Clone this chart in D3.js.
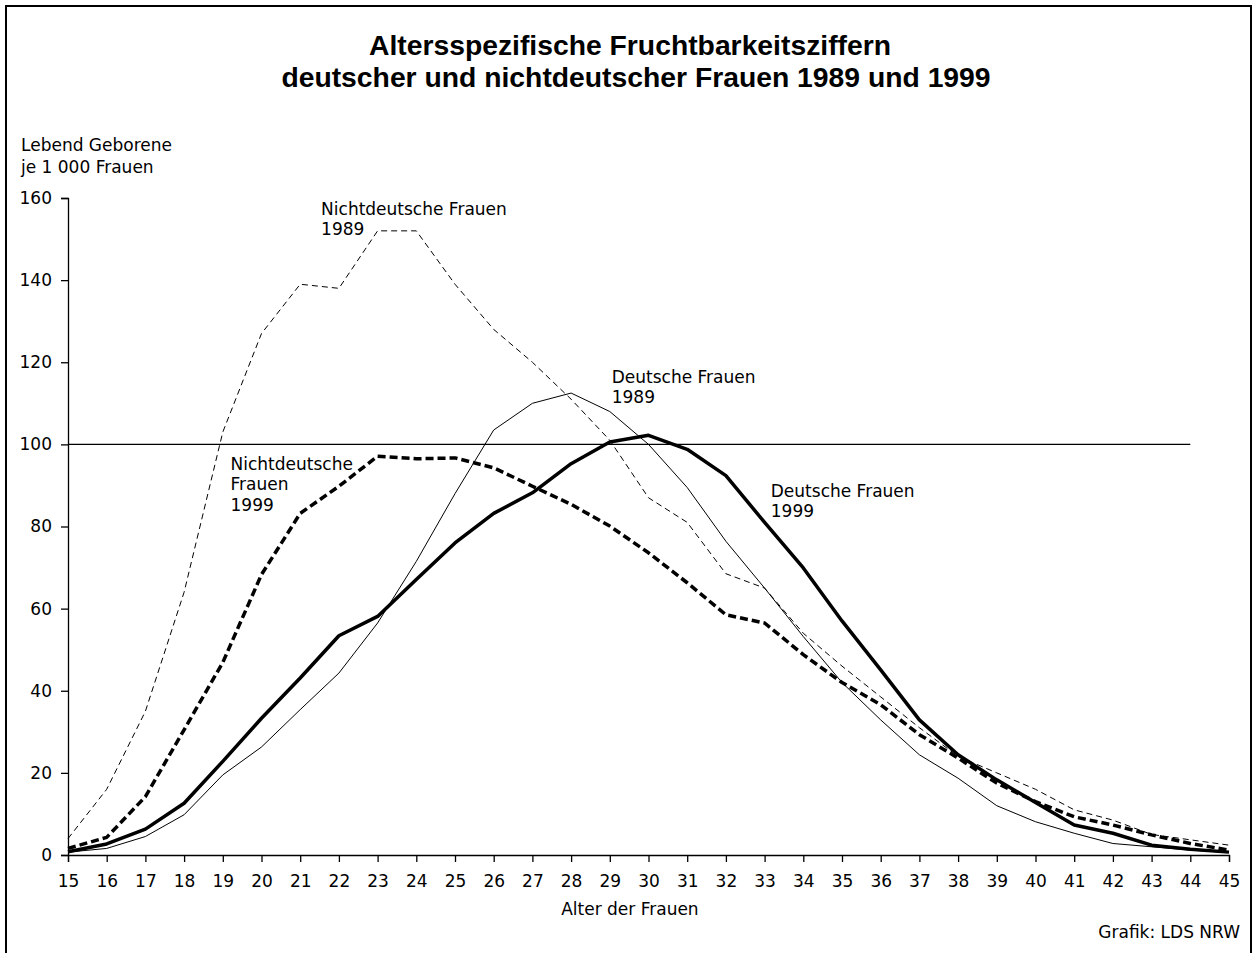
<!DOCTYPE html>
<html>
<head>
<meta charset="utf-8">
<script src="https://cdn.jsdelivr.net/npm/d3@7"></script>
<style>
  body { margin: 0; background: #fff; }
  svg text { font-family: "DejaVu Sans", sans-serif; fill: #000; }
  svg text.title { font-family: "Liberation Sans", Arial, sans-serif; font-weight: bold; }
</style>
</head>
<body>
<div id="chart"></div>
<script>
const ages = d3.range(15, 46);
const yTicks = [0, 20, 40, 60, 80, 100, 120, 140, 160];

const nichtdeutsch1989 = [4, 16, 35, 64, 103, 127, 139, 138, 152, 152, 139, 128, 120, 111, 101, 87, 81, 68.5, 65, 54, 46, 38.5, 31, 24, 20, 16, 11, 8.5, 5, 3.7, 2.4];
const deutsch1989 = [0.7, 1.6, 4.5, 9.8, 19.5, 26.3, 35.4, 44.3, 56.5, 71.5, 88, 103.5, 110, 112.5, 108, 100, 89.5, 76.4, 65, 53.2, 42, 32.9, 24.4, 18.7, 12, 8.1, 5.3, 2.8, 2, 1.2, 0.6];
const deutsch1999 = [0.8, 2.7, 6.3, 12.6, 22.8, 33.3, 43.1, 53.4, 58.1, 67.1, 76, 83.2, 88.2, 95.3, 100.6, 102.2, 98.8, 92.4, 81, 69.9, 57, 45.1, 32.9, 24.4, 18.3, 12.8, 7.3, 5.3, 2.4, 1.4, 0.7];
const nichtdeutsch1999 = [1.6, 4.3, 14.2, 30.5, 46.9, 68.3, 83.2, 89.8, 97.1, 96.5, 96.7, 94.3, 89.8, 85.4, 80.1, 73.6, 66.3, 58.5, 56.5, 48.8, 42, 36.6, 29.3, 23.6, 17.5, 13, 9.3, 7.3, 4.9, 2.8, 1.2];

const series = [
  { values: nichtdeutsch1989, width: 1, dash: "6,4" },
  { values: deutsch1989, width: 1, dash: null },
  { values: nichtdeutsch1999, width: 3.5, dash: "8,4" },
  { values: deutsch1999, width: 3.5, dash: null }
];

// label anchors in data units (age, value of first baseline)
const labels = [
  { lines: ["Nichtdeutsche Frauen", "1989"], age: 21.54, value: 155.9 },
  { lines: ["Nichtdeutsche", "Frauen", "1999"], age: 19.2, value: 93.8 },
  { lines: ["Deutsche Frauen", "1989"], age: 29.05, value: 115 },
  { lines: ["Deutsche Frauen", "1999"], age: 33.16, value: 87.2 }
];

const W = 1257, H = 953;
const fs = 17;

const svg = d3.select("#chart").append("svg")
  .attr("width", W)
  .attr("height", H);

svg.append("rect")
  .attr("x", 6).attr("y", 6)
  .attr("width", W - 12).attr("height", H + 20)
  .attr("fill", "none")
  .attr("stroke", "#000")
  .attr("stroke-width", 2);

const x = d3.scaleLinear().domain([15, 45]).range([68, 1229]);
const y = d3.scaleLinear().domain([0, 160]).range([855, 198]);

// title
svg.append("text")
  .attr("class", "title")
  .attr("text-anchor", "middle")
  .attr("font-size", 28.3)
  .attr("x", 630).attr("y", 54.5)
  .text("Altersspezifische Fruchtbarkeitsziffern");
svg.append("text")
  .attr("class", "title")
  .attr("text-anchor", "middle")
  .attr("font-size", 28.3)
  .attr("x", 636).attr("y", 86.5)
  .text("deutscher und nichtdeutscher Frauen 1989 und 1999");

// y axis caption
svg.append("text").attr("x", 21).attr("y", 151).attr("font-size", fs).text("Lebend Geborene");
svg.append("text").attr("x", 21).attr("y", 173).attr("font-size", fs).text("je 1 000 Frauen");

// axes
const yAxis = svg.append("g")
  .attr("transform", "translate(68,0)")
  .call(d3.axisLeft(y).tickValues(yTicks).tickSize(7).tickPadding(9));
const xAxis = svg.append("g")
  .attr("transform", "translate(0,855)")
  .call(d3.axisBottom(x).tickValues(ages).tickSize(7).tickPadding(13).tickFormat(d3.format("d")));

[yAxis, xAxis].forEach(g => {
  g.select(".domain").attr("stroke", "#000").attr("stroke-width", 1.3);
  g.selectAll(".tick line").attr("stroke", "#000").attr("stroke-width", 1.3);
  g.selectAll(".tick text").attr("font-size", fs).attr("font-family", "DejaVu Sans, sans-serif").attr("fill", "#000");
});

// reference line at 100
svg.append("line")
  .attr("x1", x(15)).attr("x2", x(44))
  .attr("y1", y(100)).attr("y2", y(100))
  .attr("stroke", "#000").attr("stroke-width", 1.3);

svg.append("text")
  .attr("x", x(29.52)).attr("y", 915)
  .attr("text-anchor", "middle")
  .attr("font-size", fs)
  .text("Alter der Frauen");

svg.append("text")
  .attr("x", 1240).attr("y", 938)
  .attr("text-anchor", "end")
  .attr("font-size", fs)
  .text("Grafik: LDS NRW");

const line = d3.line()
  .x((d, i) => x(ages[i]))
  .y(d => y(d));

svg.append("g")
  .selectAll("path")
  .data(series)
  .enter()
  .append("path")
  .attr("d", d => line(d.values))
  .attr("fill", "none")
  .attr("stroke", "#000")
  .attr("stroke-width", d => d.width)
  .attr("stroke-dasharray", d => d.dash)
  .attr("stroke-linejoin", "round");

labels.forEach(l => {
  l.lines.forEach((s, i) => {
    svg.append("text")
      .attr("font-size", fs)
      .attr("x", x(l.age))
      .attr("y", y(l.value) + i * 20.5)
      .text(s);
  });
});
</script>
</body>
</html>
